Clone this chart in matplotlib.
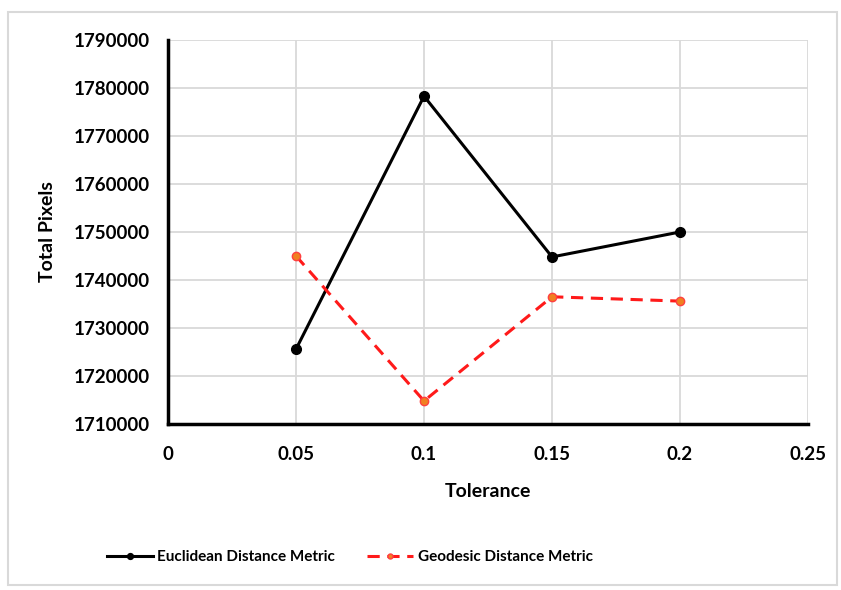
import matplotlib.pyplot as plt
import matplotlib

matplotlib.rcParams['font.family'] = ['Lato', 'DejaVu Sans']
matplotlib.rcParams['font.weight'] = 'bold'

tolerance = [0.05, 0.1, 0.15, 0.2]
euclidean = [1725600, 1778300, 1744800, 1750000]
geodesic = [1745000, 1714800, 1736500, 1735600]

fig = plt.figure(figsize=(8.41, 5.90), dpi=100)
# outer light frame like the original export
fig.add_artist(plt.Rectangle((0.010, 0.008), 0.985, 0.972, transform=fig.transFigure,
                             fill=False, edgecolor='#d9d9d9', linewidth=1.5))

ax = fig.add_axes([0.1998, 0.2814, 0.761, 0.6508])

ax.plot(tolerance, euclidean, color='black', linewidth=2.2, marker='o', markersize=7,
        label='Euclidean Distance Metric')
ax.plot(tolerance, geodesic, color='#ff1a1a', linewidth=2.2, linestyle=(0, (4, 2.5)),
        marker='o', markersize=6, markerfacecolor='#f08020', markeredgecolor='#ff4040',
        label='Geodesic Distance Metric')

ax.set_xlim(0, 0.25)
ax.set_ylim(1710000, 1790000)
ax.set_xticks([0, 0.05, 0.1, 0.15, 0.2, 0.25])
ax.set_xticklabels(['0', '0.05', '0.1', '0.15', '0.2', '0.25'])
ax.set_yticks(range(1710000, 1790001, 10000))
ax.set_yticklabels([str(v) for v in range(1710000, 1790001, 10000)])
ax.tick_params(axis='y', length=0, labelsize=13.5, pad=13)
ax.tick_params(axis='x', length=0, labelsize=13.5, pad=16)

ax.grid(True, color='#d9d9d9', linewidth=1.3)
ax.set_axisbelow(True)
for s in ['top', 'right']:
	ax.spines[s].set_visible(False)
ax.spines['left'].set_linewidth(2.5)
ax.spines['bottom'].set_linewidth(2.5)

ax.set_xlabel('Tolerance', fontsize=14, weight='bold', labelpad=14)
ax.set_ylabel('Total Pixels', fontsize=14, weight='bold', labelpad=13)

fig.legend(loc='center', bbox_to_anchor=(0.416, 0.056), ncol=2, frameon=False,
           fontsize=11, handlelength=3.0, handletextpad=0.3, columnspacing=2.1,
           markerscale=0.6)

plt.savefig('out.png', dpi=100)
